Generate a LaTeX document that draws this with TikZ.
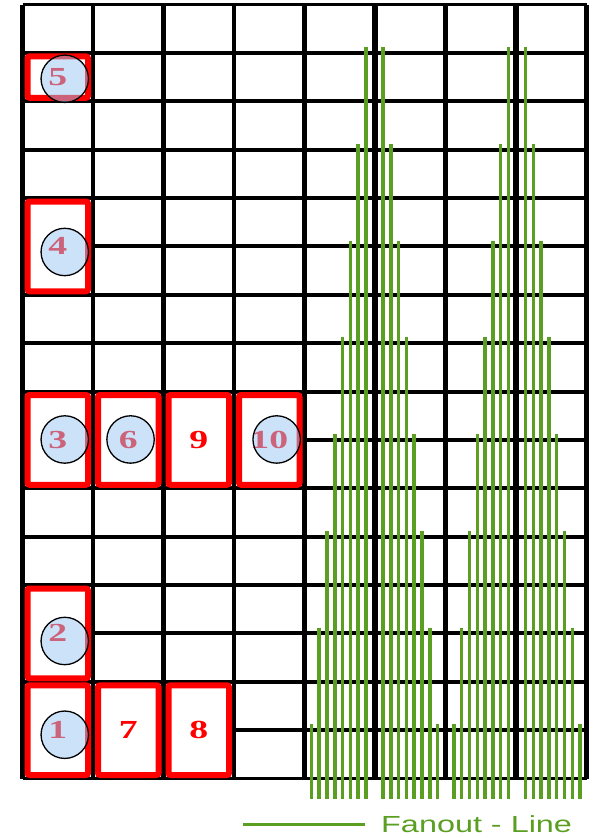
\documentclass[tikz,border=0pt]{standalone}
\usepackage{fontspec}
\setmainfont{Liberation Serif}
\newfontfamily\slotfont[FakeStretch=1.45]{Liberation Serif}
\newfontfamily\legendfont[FakeStretch=1.39]{Liberation Sans}
\usetikzlibrary{calc}
\definecolor{fanoutgreen}{HTML}{5A9E22}
\definecolor{markerblue}{HTML}{99C7F5}

\begin{document}
\begin{tikzpicture}[x=1pt, y=-1pt,
    gridline/.style={line width=4pt},
    slot/.style={draw=red, line width=6pt, fill=white, rounded corners=2pt,
      minimum width=60.5pt, text=red, inner sep=0pt,
      font=\slotfont\bfseries\fontsize{26}{26}\selectfont},
    marker/.style={circle, draw=black, line width=1.3pt, fill=markerblue,
      fill opacity=0.5, minimum size=47.4pt, inner sep=0pt},
    fanout/.style={fanoutgreen, line width=3.5pt}]
  \useasboundingbox (0,0) rectangle (594,838);
  % grid rows and columns
  \foreach \r in {1,...,15}
    \draw[gridline] (22.5,{4.5+48.375*\r}) -- (586.5,{4.5+48.375*\r});
  \draw[line width=2.5pt] (22.5,4.5) -- (586.5,4.5);
  \draw[line width=2.5pt] (22.5,778.5) -- (586.5,778.5);
  \foreach \c in {0,...,8}
    \draw[line width=4.5pt] ({22.5+70.5*\c},4.5) -- ({22.5+70.5*\c},778.5);
  \foreach \c in {5,7}
    \draw[line width=6pt] ({22.5+70.5*\c},4.5) -- ({22.5+70.5*\c},778.5);
  % placed slots
  \foreach \nm/\col/\row/\rows/\lab in {b5/0/1/1/5, b4/0/4/2/4, b3/0/8/2/3,
      b6/1/8/2/6, b9/2/8/2/9, b10/3/8/2/10, b2/0/12/2/2, b1/0/14/2/1,
      b7/1/14/2/7, b8/2/14/2/8}
    \node[slot, minimum height={48.375*\rows-7}] (\nm)
      at ({57.75+70.5*\col},{4.5+48.375*(\row+\rows/2)}) {\lab};
  \foreach \nm/\dx/\dy in {b5/7/1.7, b4/7/5.6, b3/7/-0.4, b6/2.3/-0.4,
      b10/7.4/-0.4, b2/7/7.6, b1/7/4.6}
    \node[marker] (c\nm) at ($(\nm)+(\dx,\dy)$) {};
  % fanout lines
  \foreach \mid in {374.5,517}
    \foreach \k in {0,...,7}{%
      \draw[fanout] ({\mid-8.5-7.8*\k},{47+96.75*\k}) -- ({\mid-8.5-7.8*\k},799);
      \draw[fanout] ({\mid+8.5+7.8*\k},{47+96.75*\k}) -- ({\mid+8.5+7.8*\k},799);}
  % legend
  \node[anchor=west, inner sep=0pt, text=fanoutgreen,
    font=\legendfont\fontsize{23.3}{23.3}\selectfont] (leg) at (381,824.5)
    {Fanout - Line};
  \coordinate (legtail) at (243,824.5);
  \draw[fanout, line width=3pt] (legtail) -- ([xshift=-16pt]leg.west);
\end{tikzpicture}
\end{document}
